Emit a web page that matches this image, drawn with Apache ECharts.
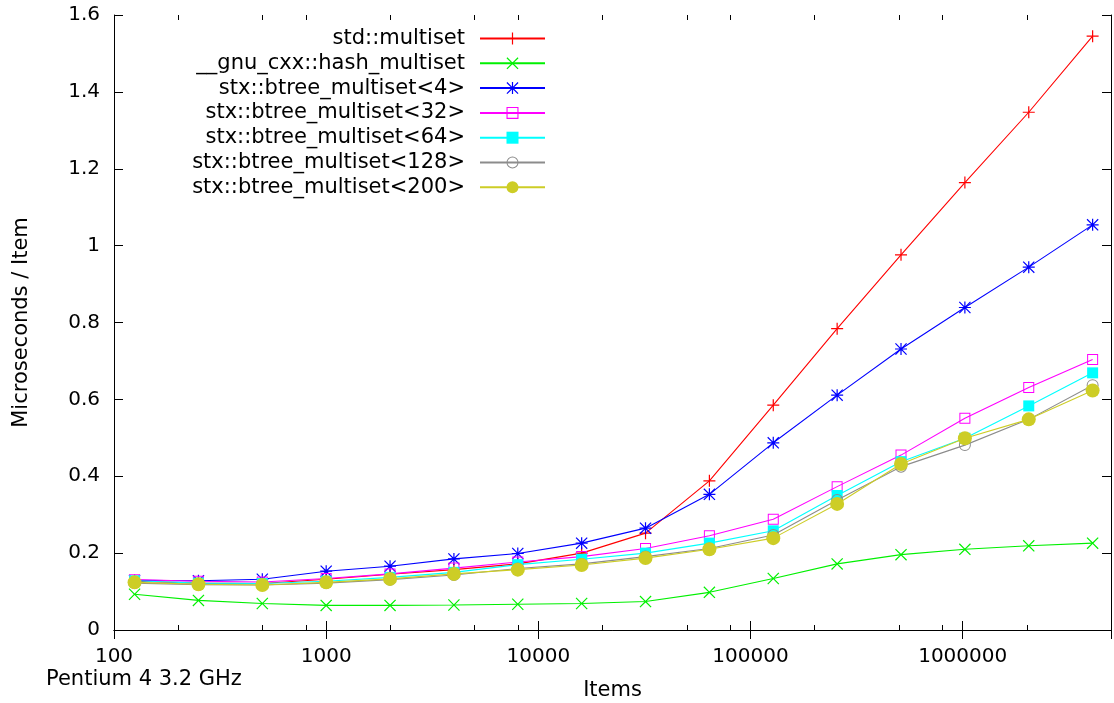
<!DOCTYPE html>
<html><head><meta charset="utf-8">
<script src="https://cdn.jsdelivr.net/npm/echarts@6/dist/echarts.min.js"></script>
<style>html,body{margin:0;padding:0;background:#fff}#c{width:1114px;height:703px}</style>
</head><body><div id="c"></div>
<script>
// ---- data ----
const items = [125,250,500,1000,2000,4000,8000,16000,32000,64000,128000,256000,512000,1024000,2048000,4096000];
const stdMultiset   = [0.127,0.122,0.121,0.132,0.145,0.157,0.172,0.200,0.252,0.388,0.585,0.784,0.976,1.164,1.347,1.545];
const gnuHashMulti  = [0.093,0.077,0.069,0.064,0.064,0.065,0.067,0.069,0.074,0.098,0.134,0.172,0.196,0.210,0.219,0.226];
const btree4        = [0.129,0.128,0.132,0.153,0.166,0.185,0.199,0.226,0.265,0.353,0.487,0.611,0.731,0.839,0.944,1.054];
const btree32       = [0.131,0.127,0.125,0.134,0.146,0.161,0.177,0.191,0.212,0.245,0.288,0.373,0.455,0.551,0.631,0.704];
const btree64       = [0.128,0.122,0.121,0.127,0.137,0.150,0.170,0.184,0.200,0.226,0.258,0.350,0.438,0.499,0.583,0.669];
const btree128      = [0.122,0.118,0.117,0.122,0.131,0.143,0.160,0.172,0.191,0.212,0.247,0.338,0.425,0.481,0.548,0.637];
const btree200      = [0.124,0.119,0.117,0.124,0.133,0.146,0.157,0.169,0.187,0.210,0.239,0.328,0.432,0.499,0.548,0.623];
const seriesNames = ['std::multiset','__gnu_cxx::hash_multiset','stx::btree_multiset<4>','stx::btree_multiset<32>','stx::btree_multiset<64>','stx::btree_multiset<128>','stx::btree_multiset<200>'];
const xMinorTicks = [200,500,800,2000,5000,8000,20000,50000,80000,200000,500000,800000,2000000];
const yTickMax = 1.6;

// ---- styles ----
const FONT = 'DejaVu Sans';
const SYM = {
  plus: 'path://M5.4,0H6.6V5.4H12V6.6H6.6V12H5.4V6.6H0V5.4H5.4Z',
  cross: 'path://M0.85,0L6,5.15L11.15,0L12,0.85L6.85,6L12,11.15L11.15,12L6,6.85L0.85,12L0,11.15L5.15,6L0,0.85Z',
  star: 'path://M5.4,0H6.6V5.4H12V6.6H6.6V12H5.4V6.6H0V5.4H5.4Z M0.85,0L6,5.15L11.15,0L12,0.85L6.85,6L12,11.15L11.15,12L6,6.85L0.85,12L0,11.15L5.15,6L0,0.85Z',
  emptySq: 'path://M0,0H11V11H0Z M1,1V10H10V1Z',
  emptyCirc: 'path://M12,6A6,6 0 1 1 0,6A6,6 0 1 1 12,6Z M11,6A5,5 0 1 0 1,6A5,5 0 1 0 11,6Z'
};
const styles = [
  {color:'#ff0000', symbol:SYM.plus, size:12},
  {color:'#00f000', symbol:SYM.cross, size:12},
  {color:'#0000ff', symbol:SYM.star, size:12},
  {color:'#ff00ff', symbol:SYM.emptySq, size:11},
  {color:'#00ffff', symbol:'rect', size:11},
  {color:'#8c8c8c', symbol:SYM.emptyCirc, size:12},
  {color:'#cdcd26', symbol:'circle', size:14}
];
const values = [stdMultiset, gnuHashMulti, btree4, btree32, btree64, btree128, btree200];

const series = values.map((vals, i) => ({
  name: seriesNames[i],
  type: 'line',
  xAxisIndex: 0, yAxisIndex: 0,
  data: items.map((x, k) => [x, vals[k]]),
  symbol: styles[i].symbol,
  symbolSize: styles[i].size,
  showSymbol: true,
  lineStyle: {color: styles[i].color, width: 1.1},
  itemStyle: {color: styles[i].color},
  emphasis: {disabled: true},
  z: 3 + i * 0.01
}));

series.push({
  type: 'custom',
  xAxisIndex: 0, yAxisIndex: 0,
  silent: true,
  data: xMinorTicks.map(v => [v, 0]),
  encode: {x: 0, y: 1},
  z: 10,
  renderItem(params, api) {
    const v = api.value(0);
    const b = api.coord([v, 0]);
    const t = api.coord([v, yTickMax]);
    const bx = Math.round(b[0]) + 0.5;
    return {type: 'group', children: [
      {type: 'line', shape: {x1: bx, y1: b[1], x2: bx, y2: b[1] - 5}, style: {stroke: '#000', lineWidth: 1}},
      {type: 'line', shape: {x1: bx, y1: t[1], x2: bx, y2: t[1] + 5}, style: {stroke: '#000', lineWidth: 1}}
    ]};
  }
});

const axisCommon = {
  axisLine: {show: true, lineStyle: {color: '#000', width: 1}},
  axisTick: {show: true, inside: true, length: 9, lineStyle: {color: '#000', width: 1}},
  splitLine: {show: false},
  minorTick: {show: false}
};

const chart = echarts.init(document.getElementById('c'), null, {renderer: 'canvas'});
chart.setOption({
  animation: false,
  backgroundColor: '#fff',
  textStyle: {fontFamily: FONT},
  title: {
    text: 'Pentium 4 3.2 GHz',
    left: 46, top: 669, padding: 0,
    textStyle: {fontFamily: FONT, fontSize: 21, fontWeight: 'normal', color: '#000'}
  },
  grid: {left: 114, right: 3, top: 15, bottom: 73, containLabel: false, outerBoundsMode: 'none'},
  legend: {
    data: seriesNames,
    orient: 'vertical',
    align: 'right',
    right: 568, top: 28,
    padding: 0,
    itemWidth: 65, itemHeight: 15, itemGap: 3.8,
    selectedMode: false,
    textStyle: {fontFamily: FONT, fontSize: 21, color: '#000', lineHeight: 21, padding: [0, 10, 0, 0]}
  },
  xAxis: [
    Object.assign({
      type: 'log', logBase: 10, min: 100, max: 5000000, position: 'bottom',
      name: 'Items', nameLocation: 'middle', nameGap: 50,
      nameTextStyle: {fontFamily: FONT, fontSize: 21, color: '#000'},
      axisLabel: {show: true, fontFamily: FONT, fontSize: 20, color: '#000', margin: 17, showMaxLabel: false,
        formatter: v => String(Math.round(v))}
    }, axisCommon),
    Object.assign({
      type: 'log', logBase: 10, min: 100, max: 5000000, position: 'top',
      axisLabel: {show: false}
    }, axisCommon)
  ],
  yAxis: [
    Object.assign({
      type: 'value', min: 0, max: yTickMax, interval: 0.2, position: 'left',
      name: 'Microseconds / Item', nameLocation: 'middle', nameGap: 82,
      nameTextStyle: {fontFamily: FONT, fontSize: 21, color: '#000'},
      axisLabel: {show: true, fontFamily: FONT, fontSize: 20, color: '#000', margin: 14,
        formatter: v => String(+v.toFixed(1))}
    }, axisCommon),
    Object.assign({
      type: 'value', min: 0, max: yTickMax, interval: 0.2, position: 'right',
      axisLabel: {show: false}
    }, axisCommon)
  ],
  series: series
});
</script>
</body></html>
